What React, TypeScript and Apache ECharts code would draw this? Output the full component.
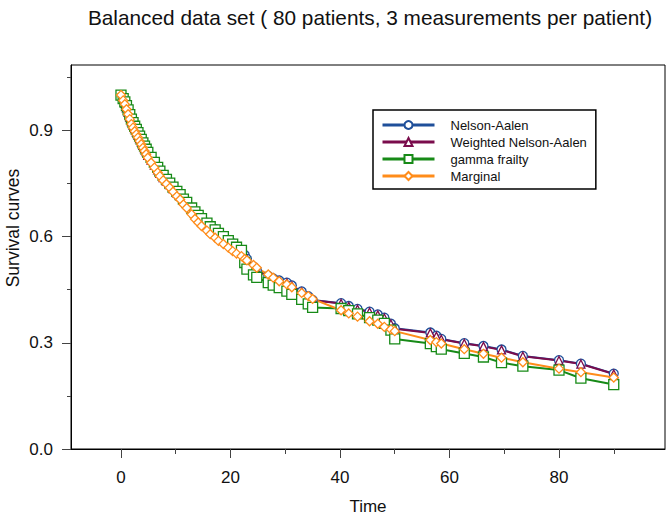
import React, { useEffect, useRef } from "react";
import * as echarts from "echarts";

const timePoints = [
  0, 0.4, 0.7, 1.0, 1.3, 1.6, 1.9, 2.2, 2.5, 2.8, 3.1, 3.4, 3.7, 4.0, 4.3, 4.6, 4.9, 5.5, 6.1, 6.7,
  7.1, 7.7, 8.3, 8.9, 9.5, 10.2, 10.8, 11.4, 12.0, 12.9, 13.5, 14.1, 14.7, 15.7, 16.3, 17.2, 17.8, 18.7,
  19.6, 20.4, 21.1, 22.0, 22.6, 23.0, 24.2, 24.8, 26.9, 27.8, 28.9, 30.3, 31.2, 33.0, 34.2, 35.0,
  40.2, 41.6, 43.2, 45.4, 46.9, 48.1, 49.3, 50.0, 56.5, 57.6, 58.5, 62.7, 66.2, 69.5, 73.4, 80.0, 84.0, 90.0,
];

const nelsonAalen = [
  1.0, 0.988, 0.978, 0.965, 0.952, 0.939, 0.926, 0.916, 0.906, 0.897, 0.888, 0.878, 0.869, 0.859, 0.85, 0.841, 0.831, 0.817, 0.803, 0.79,
  0.78, 0.768, 0.758, 0.748, 0.737, 0.725, 0.716, 0.704, 0.695, 0.68, 0.669, 0.66, 0.651, 0.639, 0.63, 0.621, 0.612, 0.602,
  0.591, 0.581, 0.571, 0.561, 0.548, 0.537, 0.515, 0.505, 0.489, 0.482, 0.476, 0.47, 0.462, 0.445, 0.432, 0.421,
  0.412, 0.404, 0.396, 0.388, 0.38, 0.371, 0.354, 0.341, 0.329, 0.32, 0.311, 0.299, 0.291, 0.281, 0.263, 0.251, 0.241, 0.213,
];

const weightedNelsonAalen = [
  1.0, 0.988, 0.977, 0.964, 0.951, 0.938, 0.925, 0.915, 0.905, 0.896, 0.887, 0.877, 0.868, 0.858, 0.849, 0.84, 0.83, 0.816, 0.802, 0.789,
  0.779, 0.767, 0.757, 0.747, 0.736, 0.724, 0.715, 0.703, 0.694, 0.679, 0.668, 0.659, 0.65, 0.638, 0.629, 0.62, 0.611, 0.601,
  0.59, 0.58, 0.57, 0.56, 0.547, 0.536, 0.514, 0.504, 0.488, 0.481, 0.475, 0.469, 0.461, 0.444, 0.431, 0.42,
  0.411, 0.403, 0.395, 0.387, 0.379, 0.37, 0.353, 0.34, 0.328, 0.319, 0.31, 0.298, 0.29, 0.28, 0.262, 0.25, 0.24, 0.212,
];

const gammaFrailty = [
  1.0, 0.99, 0.981, 0.97, 0.958, 0.945, 0.932, 0.922, 0.912, 0.903, 0.894, 0.884, 0.875, 0.865, 0.856, 0.847, 0.838, 0.824, 0.81, 0.796,
  0.785, 0.773, 0.762, 0.751, 0.74, 0.728, 0.719, 0.706, 0.697, 0.681, 0.67, 0.66, 0.651, 0.638, 0.628, 0.619, 0.609, 0.6,
  0.589, 0.579, 0.57, 0.561, 0.527, 0.508, 0.492, 0.485, 0.47, 0.463, 0.456, 0.446, 0.437, 0.423, 0.41, 0.4,
  0.397, 0.391, 0.382, 0.371, 0.364, 0.355, 0.336, 0.311, 0.298, 0.289, 0.282, 0.27, 0.26, 0.244, 0.234, 0.223, 0.2, 0.182,
];

const marginal = [
  1.0, 0.985, 0.974, 0.96, 0.946, 0.932, 0.918, 0.908, 0.898, 0.889, 0.88, 0.87, 0.861, 0.851, 0.842, 0.833, 0.823, 0.809, 0.795, 0.781,
  0.771, 0.759, 0.749, 0.738, 0.727, 0.714, 0.705, 0.691, 0.681, 0.663, 0.65, 0.64, 0.63, 0.617, 0.607, 0.597, 0.588, 0.579,
  0.569, 0.559, 0.552, 0.545, 0.537, 0.533, 0.52, 0.512, 0.493, 0.484, 0.474, 0.465, 0.457, 0.441, 0.432, 0.424,
  0.392, 0.383, 0.374, 0.361, 0.354, 0.345, 0.338, 0.333, 0.308, 0.302, 0.298, 0.282, 0.269, 0.258, 0.245, 0.227, 0.217, 0.202,
];

const xMajorTicks = [0, 20, 40, 60, 80];
const xMinorTicks = [10, 30, 50, 70, 90];
const yMajorTicks = [0, 0.3, 0.6, 0.9];
const yMinorTicks = [0.15, 0.45, 0.75, 1.05];

const seriesNames = ["Nelson-Aalen", "Weighted Nelson-Aalen", "gamma frailty", "Marginal"];
const titleText = "Balanced data set ( 80 patients, 3 measurements per patient)";
const xName = "Time";
const yName = "Survival curves";

const FONT = "'Liberation Sans', Arial, Helvetica, sans-serif";

export default function App() {
  const ref = useRef<HTMLDivElement>(null);

  useEffect(() => {
    if (!ref.current) return;
    const chart = echarts.init(ref.current, undefined, { renderer: "svg" });

    const X_MIN = -9.13;
    const X_MAX = 99.36;
    const Y_MIN = 0;
    const Y_MAX = 1.085;

    const mk = (vals: number[]) => timePoints.map((t, i) => [t, vals[i]]);

    const seriesDefs = [
      { name: seriesNames[0], data: nelsonAalen, color: "#1f4f9a", symbol: "circle", size: 9 },
      { name: seriesNames[1], data: weightedNelsonAalen, color: "#7a0c4c", symbol: "triangle", size: 8 },
      { name: seriesNames[2], data: gammaFrailty, color: "#178a17", symbol: "rect", size: 10 },
      { name: seriesNames[3], data: marginal, color: "#ff8c1a", symbol: "diamond", size: 9 },
    ];

    const tickAxis = (min: number, max: number, pos: string, values: number[], len: number) => ({
      type: "value",
      min,
      max,
      position: pos,
      axisLine: { show: false, onZero: false },
      axisTick: { show: true, customValues: values, length: len, lineStyle: { color: "#444", width: 1 } },
      axisLabel: { show: false },
      splitLine: { show: false },
    });

    chart.setOption({
      animation: false,
      backgroundColor: "#fff",
      grid: {
        left: 71,
        right: 1,
        top: 65,
        bottom: 65,
        show: true,
        borderColor: "#000",
        borderWidth: 1,
        backgroundColor: "transparent",
      },
      legend: {
        data: seriesNames,
        orient: "vertical",
        left: 373,
        top: 110,
        itemWidth: 52,
        itemHeight: 10,
        itemGap: 3,
        padding: [8, 9, 6, 8],
        borderColor: "#000",
        borderWidth: 1.5,
        backgroundColor: "#fff",
        selectedMode: false,
        lineStyle: { width: 3 },
        textStyle: {
          fontSize: 13,
          fontFamily: FONT,
          color: "#111",
          lineHeight: 14,
          padding: [0, 0, 0, 11],
        },
      },
      xAxis: [
        {
          type: "value",
          min: X_MIN,
          max: X_MAX,
          position: "bottom",
          axisLine: { show: true, onZero: false, lineStyle: { color: "#000", width: 1 } },
          axisTick: { show: false },
          axisLabel: {
            show: true,
            customValues: xMajorTicks,
            margin: 20,
            color: "#111",
            fontSize: 17,
            fontFamily: FONT,
          },
          splitLine: { show: false },
        },
        tickAxis(X_MIN, X_MAX, "bottom", xMajorTicks, 9),
        tickAxis(X_MIN, X_MAX, "bottom", xMinorTicks, 5),
      ],
      yAxis: [
        {
          type: "value",
          min: Y_MIN,
          max: Y_MAX,
          position: "left",
          axisLine: { show: true, onZero: false, lineStyle: { color: "#000", width: 1 } },
          axisTick: { show: false },
          axisLabel: {
            show: true,
            customValues: yMajorTicks,
            margin: 18,
            color: "#111",
            fontSize: 17,
            fontFamily: FONT,
            formatter: (v: number) => v.toFixed(1),
          },
          splitLine: { show: false },
        },
        tickAxis(Y_MIN, Y_MAX, "left", yMajorTicks, 9),
        tickAxis(Y_MIN, Y_MAX, "left", yMinorTicks, 4),
      ],
      graphic: [
        {
          type: "text",
          x: 370,
          y: 17,
          style: {
            text: titleText,
            fontSize: 20.8,
            fontFamily: FONT,
            fill: "#111",
            align: "center",
            verticalAlign: "middle",
          },
        },
        {
          type: "text",
          x: 368,
          y: 506,
          style: {
            text: xName,
            fontSize: 17,
            fontFamily: FONT,
            fill: "#111",
            align: "center",
            verticalAlign: "middle",
          },
        },
        {
          type: "text",
          x: 13,
          y: 228,
          rotation: Math.PI / 2,
          style: {
            text: yName,
            fontSize: 17.5,
            fontFamily: FONT,
            fill: "#111",
            align: "center",
            verticalAlign: "middle",
          },
        },
      ],
      series: seriesDefs.map((s) => ({
        name: s.name,
        type: "line",
        xAxisIndex: 0,
        yAxisIndex: 0,
        data: mk(s.data),
        symbol: s.symbol,
        symbolSize: s.size,
        showAllSymbol: true,
        lineStyle: { color: s.color, width: 2 },
        itemStyle: { color: "#fff", borderColor: s.color, borderWidth: 1.3 },
        emphasis: { disabled: true },
      })),
    });

    return () => chart.dispose();
  }, []);

  return <div ref={ref} style={{ width: 666, height: 514, position: "absolute", left: 0, top: 0 }} />;
}
